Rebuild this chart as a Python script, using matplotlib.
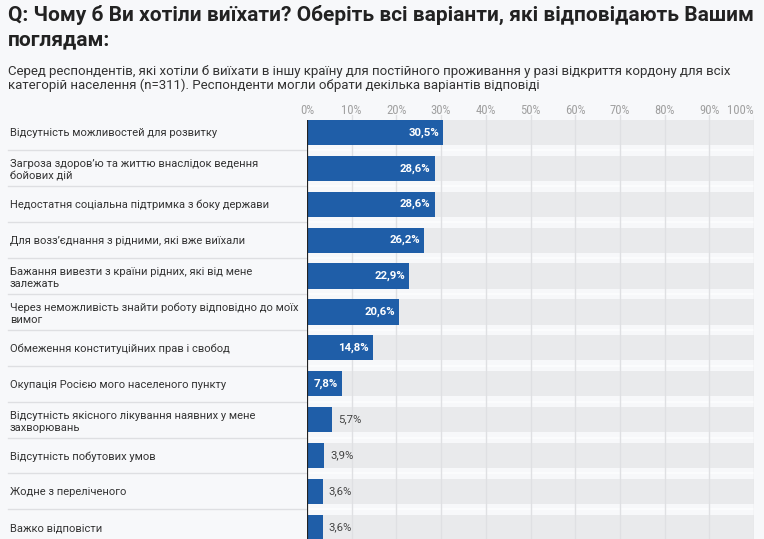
import matplotlib
matplotlib.use("Agg")
import matplotlib.pyplot as plt
from matplotlib import font_manager

categories = [
    "Відсутність можливостей для розвитку",
    "Загроза здоров’ю та життю внаслідок ведення\nбойових дій",
    "Недостатня соціальна підтримка з боку держави",
    "Для возз’єднання з рідними, які вже виїхали",
    "Бажання вивезти з країни рідних, які від мене\nзалежать",
    "Через неможливість знайти роботу відповідно до моїх\nвимог",
    "Обмеження конституційних прав і свобод",
    "Окупація Росією мого населеного пункту",
    "Відсутність якісного лікування наявних у мене\nзахворювань",
    "Відсутність побутових умов",
    "Жодне з переліченого",
    "Важко відповісти",
]
values = [30.5, 28.6, 28.6, 26.2, 22.9, 20.6, 14.8, 7.8, 5.7, 3.9, 3.6, 3.6]
ticks = [0, 10, 20, 30, 40, 50, 60, 70, 80, 90, 100]

title = ("Q: Чому б Ви хотіли виїхати? Оберіть всі варіанти, які відповідають Вашим\n"
         "поглядам:")
subtitle = ("Серед респондентів, які хотіли б виїхати в іншу країну для постійного проживання у разі відкриття кордону для всіх\n"
            "категорій населення (n=311). Респонденти могли обрати декілька варіантів відповіді")

names = {f.name for f in font_manager.fontManager.ttflist}
narrow = "Roboto Condensed" if "Roboto Condensed" in names else "Roboto"

BG = "#f7f8fa"
BLUE = "#1f5ea8"
GREY_BAR = "#e9eaec"

plt.rcParams["font.family"] = ["Roboto", "DejaVu Sans"]

W, H = 764, 539
fig = plt.figure(figsize=(W / 100, H / 100), dpi=100, facecolor=BG)

# axes: x 0..100 maps to px 307..754, rows 36px apart starting at 132.5
top_px, bot_px = 114.5, 545.3
ax = fig.add_axes([307 / W, (H - bot_px) / H, (754 - 307) / W, (bot_px - top_px) / H])
ax.set_facecolor(BG)

y = list(range(len(values)))
ax.barh(y, [100] * len(values), height=0.7, color=GREY_BAR, zorder=1)
for t in ticks[1:]:
    ax.axvline(t, color="#dfe0e3", lw=1, zorder=2)
ax.barh(y, values, height=0.7, color=BLUE, zorder=3)
ax.vlines(0, -0.35, len(values) - 0.5, color="#222222", lw=1.6, zorder=4)

# row separators
for i in y[:-1]:
    ax.plot([-0.669, 0], [i + 0.5, i + 0.5], transform=ax.get_yaxis_transform(),
            color="#dedfe2", lw=1, clip_on=False, zorder=1)
    ax.plot([0, 1], [i + 0.5, i + 0.5], transform=ax.get_yaxis_transform(),
            color="#fdfdfe", lw=1.2, zorder=1.5)

for i, v in enumerate(values):
    lab = f"{v:.1f}%".replace(".", ",")
    if v >= 7:
        ax.annotate(lab, (v, i), xytext=(-3, 0), textcoords="offset points",
                    ha="right", va="center", color="white", fontweight="bold",
                    fontsize=8.2, zorder=5)
    else:
        ax.annotate(lab, (v, i), xytext=(4, 0), textcoords="offset points",
                    ha="left", va="center", color="#444444",
                    fontsize=8.2, zorder=5)

ax.set_xlim(0, 100)
ax.set_ylim(len(values) - 0.5, -0.5)
ax.xaxis.tick_top()
ax.set_xticks(ticks)
ax.set_xticklabels([f"{t}%" for t in ticks])
ax.tick_params(axis="x", length=0, pad=-1.5, labelcolor="#a0a0a0", labelsize=9.1)
for lbl in ax.get_xticklabels():
    lbl.set_family([narrow, "DejaVu Sans"])
ax.get_xticklabels()[-1].set_ha("right")

ax.set_yticks(y)
ax.set_yticklabels(categories, ha="left", color="#333333", fontsize=8.0,
                   linespacing=1.25)
ax.tick_params(axis="y", length=0, pad=297 * 0.72)
for s in ax.spines.values():
    s.set_visible(False)

fig.text(8 / W, 1 - 5 / H, title, ha="left", va="top", fontsize=15,
         fontweight="bold", color="#222222", linespacing=1.38)
fig.text(8 / W, 1 - 65 / H, subtitle, ha="left", va="top", fontsize=9.55,
         color="#333333", linespacing=1.1)

fig.savefig("out.png", dpi=100, facecolor=BG)
